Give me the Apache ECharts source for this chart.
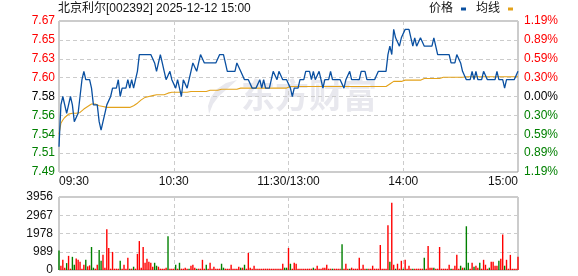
<!DOCTYPE html>
<html>
<head>
<meta charset="utf-8">
<script src="https://cdn.jsdelivr.net/npm/echarts@6/dist/echarts.min.js"></script>
<style>
html,body{margin:0;padding:0;background:#fff;}
#chart{width:578px;height:276px;}
</style>
</head>
<body>
<div id="chart"></div>
<script>
const TITLE = '北京利尔[002392] 2025-12-12 15:00';
const PREV_CLOSE = 7.58;
const TIME_TICKS = [0, 60, 120, 180, 240];
const TIME_LABELS = ['09:30', '10:30', '11:30/13:00', '14:00', '15:00'];
const VOL_TICK = 989;
const VOL_MAX = 3956;

const PRICES = [
  7.52,7.57,7.58,7.58,7.56,7.57,7.58,7.57,7.55,7.55,
  7.56,7.58,7.60,7.61,7.60,7.60,7.60,7.59,7.57,7.57,
  7.57,7.55,7.54,7.55,7.56,7.57,7.57,7.58,7.59,7.59,
  7.59,7.60,7.58,7.59,7.59,7.59,7.60,7.59,7.60,7.59,
  7.60,7.61,7.63,7.63,7.63,7.63,7.63,7.63,7.63,7.63,
  7.62,7.61,7.62,7.63,7.62,7.61,7.60,7.60,7.61,7.60,
  7.60,7.59,7.60,7.59,7.58,7.60,7.60,7.59,7.60,7.61,
  7.62,7.62,7.61,7.62,7.63,7.63,7.62,7.62,7.62,7.62,
  7.62,7.62,7.62,7.62,7.63,7.63,7.63,7.62,7.61,7.61,
  7.61,7.61,7.61,7.62,7.62,7.61,7.61,7.60,7.60,7.60,
  7.60,7.59,7.59,7.59,7.59,7.60,7.59,7.60,7.59,7.59,
  7.59,7.60,7.61,7.61,7.60,7.61,7.61,7.60,7.60,7.60,
  7.60,7.59,7.58,7.59,7.59,7.59,7.60,7.60,7.60,7.61,
  7.61,7.61,7.60,7.61,7.60,7.60,7.61,7.60,7.59,7.60,
  7.60,7.60,7.61,7.60,7.60,7.60,7.60,7.60,7.60,7.59,
  7.60,7.60,7.61,7.60,7.60,7.60,7.60,7.60,7.61,7.61,
  7.61,7.60,7.60,7.60,7.60,7.60,7.60,7.61,7.61,7.61,
  7.61,7.61,7.63,7.64,7.63,7.66,7.65,7.65,7.64,7.65,
  7.65,7.66,7.66,7.66,7.65,7.64,7.65,7.64,7.64,7.65,
  7.65,7.64,7.64,7.64,7.64,7.64,7.65,7.65,7.63,7.63,
  7.63,7.63,7.63,7.63,7.63,7.62,7.62,7.62,7.63,7.63,
  7.62,7.61,7.61,7.60,7.60,7.60,7.61,7.60,7.61,7.60,
  7.60,7.60,7.61,7.61,7.60,7.60,7.60,7.60,7.60,7.61,
  7.60,7.60,7.60,7.59,7.60,7.60,7.60,7.60,7.60,7.60,
  7.61
];

const AVG = [
  7.535,7.548,7.552,7.555,7.557,7.559,7.560,7.560,7.560,7.560,
  7.560,7.561,7.563,7.565,7.567,7.568,7.570,7.571,7.571,7.571,
  7.570,7.569,7.568,7.568,7.567,7.567,7.567,7.567,7.567,7.567,
  7.567,7.567,7.567,7.567,7.567,7.567,7.567,7.567,7.568,7.569,
  7.570,7.572,7.574,7.576,7.578,7.579,7.579,7.580,7.580,7.581,
  7.581,7.582,7.582,7.582,7.582,7.582,7.582,7.584,7.585,7.585,
  7.585,7.585,7.585,7.585,7.585,7.585,7.585,7.585,7.586,7.586,
  7.586,7.586,7.586,7.586,7.586,7.586,7.586,7.586,7.586,7.5875,
  7.5875,7.5875,7.5875,7.5875,7.5875,7.5887,7.5887,7.5887,7.5887,7.5887,
  7.5887,7.5887,7.5887,7.5887,7.590,7.590,7.590,7.590,7.590,7.590,
  7.590,7.590,7.590,7.590,7.590,7.590,7.590,7.590,7.590,7.590,
  7.590,7.590,7.590,7.590,7.590,7.590,7.590,7.590,7.590,7.590,
  7.590,7.592,7.592,7.592,7.592,7.592,7.592,7.592,7.592,7.592,
  7.592,7.592,7.592,7.592,7.592,7.592,7.592,7.592,7.592,7.592,
  7.592,7.592,7.592,7.592,7.592,7.592,7.592,7.592,7.592,7.592,
  7.592,7.592,7.592,7.592,7.592,7.592,7.592,7.592,7.592,7.592,
  7.592,7.592,7.592,7.592,7.592,7.592,7.592,7.592,7.592,7.592,
  7.592,7.592,7.593,7.595,7.596,7.598,7.598,7.598,7.598,7.598,
  7.598,7.5995,7.5995,7.5995,7.5995,7.5995,7.5995,7.5995,7.5995,7.5995,
  7.5995,7.6015,7.6015,7.6015,7.6015,7.6015,7.6015,7.6015,7.6015,7.6015,
  7.603,7.603,7.603,7.603,7.603,7.603,7.603,7.603,7.603,7.603,
  7.603,7.603,7.6035,7.6035,7.6035,7.6035,7.6035,7.6035,7.6035,7.6035,
  7.6035,7.6035,7.6035,7.6035,7.6035,7.6035,7.6035,7.6035,7.6035,7.6035,
  7.6035,7.6035,7.6035,7.6035,7.6035,7.6035,7.6035,7.6035,7.6035,7.6035,
  7.6035
];

const VOLUMES = [
  1060,232,552,125,374,766,71,713,285,624,
  552,445,71,285,552,196,250,1247,125,71,
  285,1087,499,820,125,2210,1194,71,980,71,
  71,71,499,71,285,71,659,71,71,178,
  71,873,1568,125,1247,392,606,445,392,178,
  392,232,178,71,71,71,125,1835,71,71,
  71,285,71,392,71,71,125,71,71,232,
  285,125,71,71,71,552,71,285,71,392,
  71,178,71,71,71,339,125,71,71,71,
  285,71,71,71,178,125,125,285,71,927,
  125,71,232,71,71,71,71,71,71,71,
  71,71,71,71,71,71,71,339,125,125,
  1194,339,70,392,339,70,70,70,70,70,
  70,70,70,125,70,232,70,70,125,125,
  285,70,70,70,70,70,70,70,1400,70,
  339,70,70,125,70,70,70,659,70,285,
  70,70,70,70,232,70,70,70,1354,70,
  70,70,2424,445,3650,285,70,339,70,499,
  70,552,70,232,70,70,70,70,70,70,
  70,659,70,1301,125,125,125,70,70,1247,
  70,70,70,70,285,70,70,232,820,70,
  232,125,125,2370,392,70,392,178,232,125,
  392,70,552,285,70,125,445,445,232,232,
  499,606,1930,232,552,70,820,70,70,70,
  713
];

// minutes whose volume bar is drawn green (price fell)
const DOWN_BARS = [0,4,7,8,14,17,18,21,22,32,37,39,50,51,57,61,63,68,72,77,85,86,95,97,118,119,
  121,133,143,148,152,161,173,176,180,185,191,196,205,210,212,213,214,217,220,225,230,233];

const RED = '#ff0000', GREEN = '#008000', BLACK = '#000000';
const FONT = "'Liberation Sans', 'Noto Sans CJK SC', sans-serif";
const GRID_LINE = { show: true, lineStyle: { color: '#cccccc', width: 1, type: [4, 3] } };

const downSet = new Set(DOWN_BARS);
const priceData = PRICES.map((p, i) => [i, (p - PREV_CLOSE) * 100]);
const avgData = AVG.map((p, i) => [i, (p - PREV_CLOSE) * 100]);
const volData = VOLUMES.map((v, i) => ({ value: [i, v], itemStyle: { color: downSet.has(i) ? GREEN : RED } }));

function priceLabel(v) {
  return (Math.round(PREV_CLOSE * 100 + v + 1e-6) / 100).toFixed(2);
}
function pctLabel(v) {
  return (Math.abs(v) / PREV_CLOSE).toFixed(2) + '%';
}
function signColor(v) {
  return v > 1e-9 ? RED : (v < -1e-9 ? GREEN : BLACK);
}
function timeLabel(v) {
  const k = TIME_TICKS.indexOf(v);
  return k >= 0 ? TIME_LABELS[k] : '';
}

const chart = echarts.init(document.getElementById('chart'), null, { renderer: 'canvas' });
chart.setOption({
  animation: false,
  backgroundColor: '#ffffff',
  textStyle: { fontFamily: FONT },
  title: {
    text: TITLE, left: 58, top: 3, padding: 0,
    textStyle: { fontSize: 12, fontWeight: 'normal', color: '#111', fontFamily: FONT }
  },
  legend: {
    data: ['价格', '均线'], right: 65, top: 3, padding: 0,
    align: 'right', icon: 'rect', itemWidth: 5, itemHeight: 3, itemGap: 10,
    textStyle: { fontSize: 12, color: '#111', fontFamily: FONT, padding: [0, 3, 0, 0] }
  },
  graphic: [
    {
      type: 'polygon', z: 0, silent: true,
      shape: { points: [[237,80],[226,83],[217,89],[211,97],[208,106],[209,114],[213,104],[219,96],[227,89]] },
      style: { fill: '#e8e8ee' }
    },
    {
      type: 'text', left: 241, top: 78, z: 0, silent: true,
      style: { text: '东方财富', fill: '#e8e8ee', font: "bold 34px 'Noto Sans CJK SC', sans-serif" }
    }
  ],
  grid: [
    { left: 59, right: 60, top: 21, height: 151, show: true, borderColor: '#999', borderWidth: 1, backgroundColor: 'transparent', outerBoundsMode: 'none' },
    { left: 59, right: 60, top: 197, height: 73, show: true, borderColor: '#999', borderWidth: 1, backgroundColor: 'transparent', outerBoundsMode: 'none' }
  ],
  xAxis: [
    {
      type: 'value', gridIndex: 0, min: 0, max: 240, interval: 60,
      axisLine: { show: false }, axisTick: { show: false },
      splitLine: GRID_LINE,
      axisLabel: {
        show: true, margin: 4, fontSize: 12, color: '#111', fontFamily: FONT,
        formatter: timeLabel, alignMinLabel: 'left', alignMaxLabel: 'right',
        showMinLabel: true, showMaxLabel: true, hideOverlap: false
      }
    },
    {
      type: 'value', gridIndex: 1, min: 0, max: 240, interval: 60,
      axisLine: { show: false }, axisTick: { show: false },
      splitLine: GRID_LINE, axisLabel: { show: false }
    }
  ],
  yAxis: [
    {
      type: 'value', gridIndex: 0, position: 'left', min: -9, max: 9, interval: 2.25,
      axisLine: { show: false }, axisTick: { show: false }, splitLine: GRID_LINE,
      axisLabel: { margin: 4, fontSize: 12, fontFamily: FONT, formatter: priceLabel, color: signColor, showMinLabel: true, showMaxLabel: true }
    },
    {
      type: 'value', gridIndex: 0, position: 'right', min: -9, max: 9, interval: 2.25,
      axisLine: { show: false }, axisTick: { show: false }, splitLine: { show: false },
      axisLabel: { margin: 6, fontSize: 12, fontFamily: FONT, formatter: pctLabel, color: signColor, showMinLabel: true, showMaxLabel: true }
    },
    {
      type: 'value', gridIndex: 1, position: 'left', min: 0, max: VOL_MAX, interval: VOL_TICK,
      axisLine: { show: false }, axisTick: { show: false }, splitLine: GRID_LINE,
      axisLabel: { margin: 6, fontSize: 12, fontFamily: FONT, color: '#111', showMinLabel: true, showMaxLabel: true,
        formatter: function (v) { return String(Math.round(v)); } }
    }
  ],
  series: [
    {
      name: '价格', type: 'line', xAxisIndex: 0, yAxisIndex: 0, data: priceData,
      showSymbol: false, symbol: 'none', z: 4,
      lineStyle: { color: '#0a50a1', width: 1.3 }, itemStyle: { color: '#0a50a1' }
    },
    {
      name: '均线', type: 'line', xAxisIndex: 0, yAxisIndex: 0, data: avgData,
      showSymbol: false, symbol: 'none', z: 3,
      lineStyle: { color: '#e3a21b', width: 1.1 }, itemStyle: { color: '#e3a21b' }
    },
    {
      name: '成交量', type: 'bar', xAxisIndex: 1, yAxisIndex: 2, data: volData,
      barWidth: 1.4, z: 3
    }
  ]
});
</script>
</body>
</html>
